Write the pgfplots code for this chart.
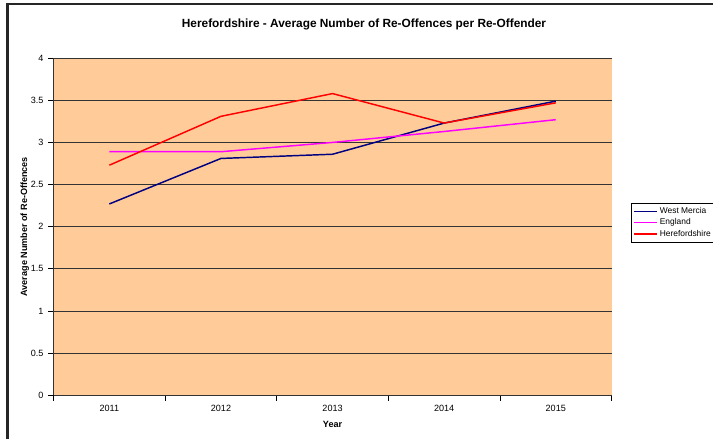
\documentclass[border=0pt]{standalone}
\usepackage{pgfplots}
\pgfplotsset{compat=1.18}
\usepackage{fontspec}
\setmainfont{Liberation Sans}
\definecolor{plotbg}{HTML}{FFCC99}
\definecolor{wm}{HTML}{000080}
\definecolor{eng}{HTML}{FF00FF}
\definecolor{her}{HTML}{FF0000}
\begin{document}
\begin{tikzpicture}[x=0.75pt,y=0.75pt]
\useasboundingbox (0,0) rectangle (713,439);
\draw[line width=1.6pt,black!85] (7.5,0) -- (7.5,435) -- (713,435);
\node[font=\fontsize{8.9}{10}\selectfont\bfseries] at (364,415) {Herefordshire - Average Number of Re-Offences per Re-Offender};
\begin{axis}[
  at={(48,52)}, anchor=south west,
  scale only axis, width=418.5pt, height=252.75pt,
  xmin=-0.5, xmax=4.5, ymin=0, ymax=4,
  axis background/.style={fill=plotbg},
  axis line style={black!80, line width=0.6pt},
  axis x line*=bottom, axis y line*=left,
  xtick={0,1,2,3,4}, xticklabels={2011,2012,2013,2014,2015},
  major x tick style={draw=none},
  minor xtick={-0.5,0.5,1.5,2.5,3.5,4.5},
  minor x tick style={black, line width=0.6pt},
  minor tick length=4pt,
  ytick={0,0.5,...,4},
  yticklabels={0,0.5,1,1.5,2,2.5,3,3.5,4},
  major tick length=4pt,
  tick align=outside,
  y tick style={black, line width=0.6pt},
  ymajorgrids, grid style={black!80, line width=0.6pt},
  ticklabel style={font=\fontsize{6.8}{8}\selectfont},
  /pgf/number format/assume math mode=true,
  xlabel={\bfseries Year}, ylabel={\bfseries Average Number of Re-Offences},
  label style={font=\fontsize{6.8}{8}\selectfont},
  xlabel style={yshift=0pt},
  ylabel style={yshift=-5.5pt},
  legend style={at={(1.035,0.512)}, anchor=west, font=\fontsize{6.3}{7.5}\selectfont,
    draw=black, line width=0.6pt, inner sep=1.2pt, row sep=-1.5pt},
  legend image post style={line width=1pt},
  legend cell align=left,
  every axis plot/.append style={line width=1.1pt, mark=none},
  clip=false,
]
\addplot[wm] coordinates {(0,2.27) (1,2.81) (2,2.86) (3,3.23) (4,3.49)};
\addlegendentry{West Mercia}
\addplot[eng] coordinates {(0,2.89) (1,2.89) (2,3.00) (3,3.13) (4,3.27)};
\addlegendentry{England}
\addplot[her] coordinates {(0,2.73) (1,3.31) (2,3.58) (3,3.23) (4,3.47)};
\addlegendentry{Herefordshire}
\end{axis}
\end{tikzpicture}
\end{document}
